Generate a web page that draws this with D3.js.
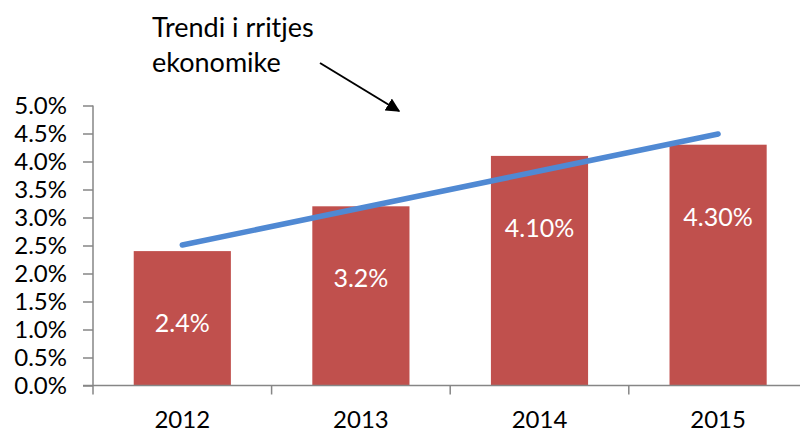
<!DOCTYPE html>
<html>
<head>
<meta charset="utf-8">
<script src="https://cdn.jsdelivr.net/npm/d3@7/dist/d3.min.js"></script>
<style>
  html, body { margin: 0; padding: 0; background: #fff; }
  svg { display: block; }
  text { font-family: Lato, "Open Sans", sans-serif; }
</style>
</head>
<body>
<svg id="chart" width="800" height="432"></svg>
<script>
const years = ["2012", "2013", "2014", "2015"];
const growth = [2.4, 3.2, 4.1, 4.3];
const barLabels = ["2.4%", "3.2%", "4.10%", "4.30%"];
const trend = [2.51, 3.17, 3.83, 4.49];
const yTicks = [0, 0.5, 1, 1.5, 2, 2.5, 3, 3.5, 4, 4.5, 5];
const noteLines = ["Trendi i rritjes", "ekonomike"];

const svg = d3.select("#chart");
const x = d3.scaleBand().domain(years).range([93, 807.4]).paddingInner(0.456).paddingOuter(0.228);
const y = d3.scaleLinear().domain([0, 5]).range([385.5, 105.5]);
const step = x.step();

// bars
svg.append("g").selectAll("rect").data(years).join("rect")
  .attr("x", d => x(d))
  .attr("y", (d, i) => y(growth[i]))
  .attr("width", x.bandwidth())
  .attr("height", (d, i) => y(0) - y(growth[i]))
  .attr("fill", "#C0504D");

// bar labels
svg.append("g").selectAll("text").data(years).join("text")
  .attr("x", d => x(d) + x.bandwidth() / 2)
  .attr("y", (d, i) => y(growth[i]) + 81)
  .attr("text-anchor", "middle")
  .attr("fill", "#fff")
  .attr("font-size", 25)
  .text((d, i) => barLabels[i]);

// y axis
const yAxis = d3.axisLeft(y).tickValues(yTicks).tickSize(10).tickPadding(16)
  .tickFormat(d => d.toFixed(1) + "%");
const gy = svg.append("g").attr("transform", "translate(93,0)").call(yAxis);
gy.select(".domain").attr("stroke", "#868686").attr("stroke-width", 1.5).attr("d", `M0,${y(5)}V${y(0)}`);
gy.selectAll(".tick line").attr("stroke", "#868686").attr("stroke-width", 1.5);
gy.selectAll(".tick text").attr("font-size", 24).attr("fill", "#000").attr("font-family", "Lato, 'Open Sans', sans-serif");

// x axis line + boundary ticks
const gx = svg.append("g");
gx.append("line").attr("x1", 83).attr("x2", 800).attr("y1", y(0)).attr("y2", y(0))
  .attr("stroke", "#868686").attr("stroke-width", 1.5);
gx.selectAll("line.t").data(years).join("line").attr("class", "t")
  .attr("x1", d => x(d) - step * 0.228).attr("x2", d => x(d) - step * 0.228)
  .attr("y1", y(0)).attr("y2", y(0) + 9)
  .attr("stroke", "#868686").attr("stroke-width", 1.5);
gx.selectAll("text").data(years).join("text")
  .attr("x", d => x(d) + x.bandwidth() / 2)
  .attr("y", 428)
  .attr("text-anchor", "middle")
  .attr("font-size", 24)
  .attr("fill", "#000")
  .text(d => d);

// trend line
const line = d3.line().x((d, i) => x(years[i]) + x.bandwidth() / 2).y(d => y(d));
svg.append("path").datum(trend)
  .attr("d", line)
  .attr("fill", "none")
  .attr("stroke", "#5089D3")
  .attr("stroke-width", 5.5)
  .attr("stroke-linecap", "round");

// annotation
svg.append("defs").append("marker")
  .attr("id", "arrow").attr("viewBox", "0 0 10 10").attr("refX", 9).attr("refY", 5)
  .attr("markerWidth", 7).attr("markerHeight", 7).attr("orient", "auto")
  .append("path").attr("d", "M0,0L10,5L0,10Z").attr("fill", "#000");

svg.append("g").selectAll("text").data(noteLines).join("text")
  .attr("x", 152)
  .attr("y", (d, i) => 37 + i * 35)
  .attr("font-size", 27)
  .attr("fill", "#000")
  .text(d => d);

svg.append("line")
  .attr("x1", 320).attr("y1", 63).attr("x2", 399).attr("y2", 111)
  .attr("stroke", "#000").attr("stroke-width", 2)
  .attr("marker-end", "url(#arrow)");
</script>
</body>
</html>
